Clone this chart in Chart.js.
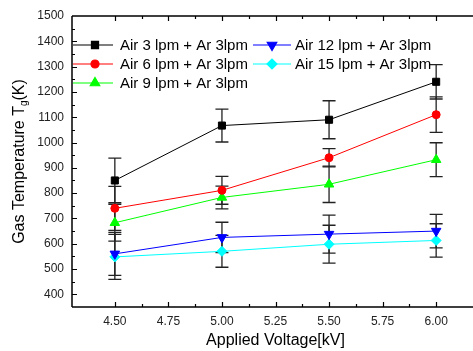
<!DOCTYPE html>
<html>
<head>
<meta charset="utf-8">
<script src="https://cdn.jsdelivr.net/npm/chart.js@4.4.0/dist/chart.umd.min.js"></script>
<style>
  html, body { margin: 0; padding: 0; background: #fff; overflow: hidden; }
  #wrap { width: 486px; height: 351px; }
</style>
</head>
<body>
<div id="wrap"><canvas id="tempChart" width="486" height="351"></canvas></div>
<script>
// applied voltage (kV)
const voltage = [4.5, 5.0, 5.5, 6.0];

// gas temperature (K) and error for each flow setting
const labels = [
  "Air 3 lpm + Ar 3lpm",
  "Air 6 lpm + Ar 3lpm",
  "Air 9 lpm + Ar 3lpm",
  "Air 12 lpm + Ar 3lpm",
  "Air 15 lpm + Ar 3lpm"
];
const air3 = [850, 1067, 1090, 1240];
const air3Err = [88, 65, 75, 68];
const air6 = [740, 811, 940, 1110];
const air6Err = [87, 55, 36, 70];
const air9 = [683, 783, 835, 932];
const air9Err = [73, 45, 72, 67];
const air12 = [560, 625, 638, 650];
const air12Err = [85, 60, 75, 66];
const air15 = [548, 570, 598, 613];
const air15Err = [89, 63, 75, 66];

const FONT = "'Liberation Sans', Arial, sans-serif";

function series(label, vals, errs, color, style, radius, rotation) {
  return {
    label: label,
    data: voltage.map((v, i) => ({ x: v, y: vals[i] })),
    errors: errs,
    borderColor: color,
    backgroundColor: color,
    borderWidth: 1,
    pointStyle: style,
    pointRadius: radius,
    pointRotation: rotation || 0,
    pointBorderWidth: 1,
    pointHoverRadius: radius
  };
}

// error bars, drawn behind the markers
const errorBars = {
  id: "errorBars",
  beforeDatasetsDraw(chart) {
    const ctx = chart.ctx;
    const xs = chart.scales.x, ys = chart.scales.y;
    ctx.save();
    ctx.strokeStyle = "#222";
    ctx.lineWidth = 1.3;
    chart.data.datasets.forEach((ds) => {
      ds.data.forEach((p, i) => {
        const e = ds.errors[i];
        const x = xs.getPixelForValue(p.x);
        const t = ys.getPixelForValue(p.y + e);
        const b = ys.getPixelForValue(p.y - e);
        ctx.beginPath();
        ctx.moveTo(x, t); ctx.lineTo(x, b);
        ctx.moveTo(x - 6.5, t); ctx.lineTo(x + 6.5, t);
        ctx.moveTo(x - 6.5, b); ctx.lineTo(x + 6.5, b);
        ctx.stroke();
      });
    });
    ctx.restore();
  }
};

// frame, inward ticks, y title and legend
const frame = {
  id: "frame",
  afterDraw(chart) {
    const ctx = chart.ctx;
    const a = chart.chartArea;
    const xs = chart.scales.x, ys = chart.scales.y;
    ctx.save();
    ctx.strokeStyle = "#000";
    ctx.lineWidth = 1.5;
    ctx.beginPath();
    ctx.moveTo(a.left, a.top); ctx.lineTo(a.right, a.top);
    ctx.moveTo(a.left, a.top); ctx.lineTo(a.left, a.bottom);
    ctx.moveTo(a.left, a.bottom); ctx.lineTo(a.right, a.bottom);
    ctx.stroke();

    ctx.lineWidth = 1.2;
    ctx.beginPath();
    xs.ticks.forEach((t) => {
      const v = t.value;
      if (v <= xs.min + 1e-6 || v >= xs.max - 1e-6) return;
      const major = Math.abs(v * 4 - Math.round(v * 4)) < 1e-6;
      const len = major ? 5 : 3;
      const x = Math.round(xs.getPixelForValue(v)) + 0.5;
      ctx.moveTo(x, a.bottom); ctx.lineTo(x, a.bottom - len);
      ctx.moveTo(x, a.top); ctx.lineTo(x, a.top + len);
    });
    ys.ticks.forEach((t) => {
      const v = t.value;
      if (v <= ys.min || v >= ys.max) return;
      const len = v % 100 === 0 ? 5 : 3;
      const y = Math.round(ys.getPixelForValue(v)) + 0.5;
      ctx.moveTo(a.left, y); ctx.lineTo(a.left + len, y);
    });
    ctx.stroke();

    // y axis title with subscript g
    ctx.fillStyle = "#000";
    ctx.textBaseline = "middle";
    ctx.save();
    ctx.translate(20, (a.top + a.bottom) / 2);
    ctx.rotate(-Math.PI / 2);
    const mainFont = "16px " + FONT, subFont = "10px " + FONT;
    const p1 = "Gas Temperature T", p2 = "g", p3 = "(K)";
    ctx.font = mainFont; const w1 = ctx.measureText(p1).width, w3 = ctx.measureText(p3).width;
    ctx.font = subFont; const w2 = ctx.measureText(p2).width;
    let x0 = -(w1 + w2 + w3) / 2;
    ctx.textAlign = "left";
    ctx.font = mainFont; ctx.fillText(p1, x0, 0);
    ctx.font = subFont; ctx.fillText(p2, x0 + w1, 4);
    ctx.font = mainFont; ctx.fillText(p3, x0 + w1 + w2, 0);
    ctx.restore();

    // legend in two columns
    const cols = [{ l0: 73, l1: 113, m: 95, t: 120 }, { l0: 253, l1: 291, m: 272, t: 295 }];
    ctx.font = "15px " + FONT;
    ctx.textAlign = "left";
    chart.data.datasets.forEach((ds, i) => {
      const c = cols[i < 3 ? 0 : 1];
      const y = 45 + (i < 3 ? i : i - 3) * 19;
      ctx.strokeStyle = ds.borderColor;
      ctx.fillStyle = ds.backgroundColor;
      ctx.lineWidth = 1.2;
      ctx.beginPath();
      ctx.moveTo(c.l0, y); ctx.lineTo(c.l1, y);
      ctx.stroke();
      Chart.helpers.drawPoint(ctx, {
        pointStyle: ds.pointStyle, radius: ds.pointRadius,
        rotation: ds.pointRotation, borderWidth: 1
      }, c.m, y);
      ctx.fillStyle = "#000";
      ctx.fillText(ds.label, c.t, y + 1);
    });
    ctx.restore();
  }
};

new Chart(document.getElementById("tempChart").getContext("2d"), {
  type: "line",
  data: {
    datasets: [
      series(labels[0], air3, air3Err, "#000000", "rect", 5),
      series(labels[1], air6, air6Err, "#ff0000", "circle", 4),
      series(labels[2], air9, air9Err, "#00ff00", "triangle", 5.5),
      series(labels[3], air12, air12Err, "#0000ff", "triangle", 5.5, 180),
      series(labels[4], air15, air15Err, "#00ffff", "rectRot", 5)
    ]
  },
  options: {
    responsive: false,
    animation: false,
    layout: { padding: { top: 16, right: 1, left: 0, bottom: 0 } },
    plugins: { legend: { display: false }, tooltip: { enabled: false } },
    scales: {
      x: {
        type: "linear",
        min: 4.3,
        max: 6.2,
        afterFit: (s) => { s.height = 44; },
        grid: { display: false, drawTicks: false },
        border: { display: false },
        ticks: {
          stepSize: 0.125,
          autoSkip: false,
          maxRotation: 0,
          padding: 7,
          color: "#222",
          font: { family: FONT, size: 12 },
          callback: (v) => Math.abs(v * 4 - Math.round(v * 4)) < 1e-6 ? Number(v).toFixed(2) : ""
        },
        title: {
          display: true,
          text: "Applied Voltage[kV]",
          color: "#000",
          font: { family: FONT, size: 16 },
          padding: { top: 0, bottom: 1 }
        }
      },
      y: {
        min: 350,
        max: 1500,
        afterFit: (s) => { s.width = 72; },
        grid: { display: false, drawTicks: false },
        border: { display: false },
        ticks: {
          stepSize: 50,
          autoSkip: false,
          padding: 8,
          color: "#222",
          font: { family: FONT, size: 12 },
          callback: (v) => (v % 100 === 0 && v >= 400) ? v : ""
        }
      }
    }
  },
  plugins: [errorBars, frame]
});
</script>
</body>
</html>
